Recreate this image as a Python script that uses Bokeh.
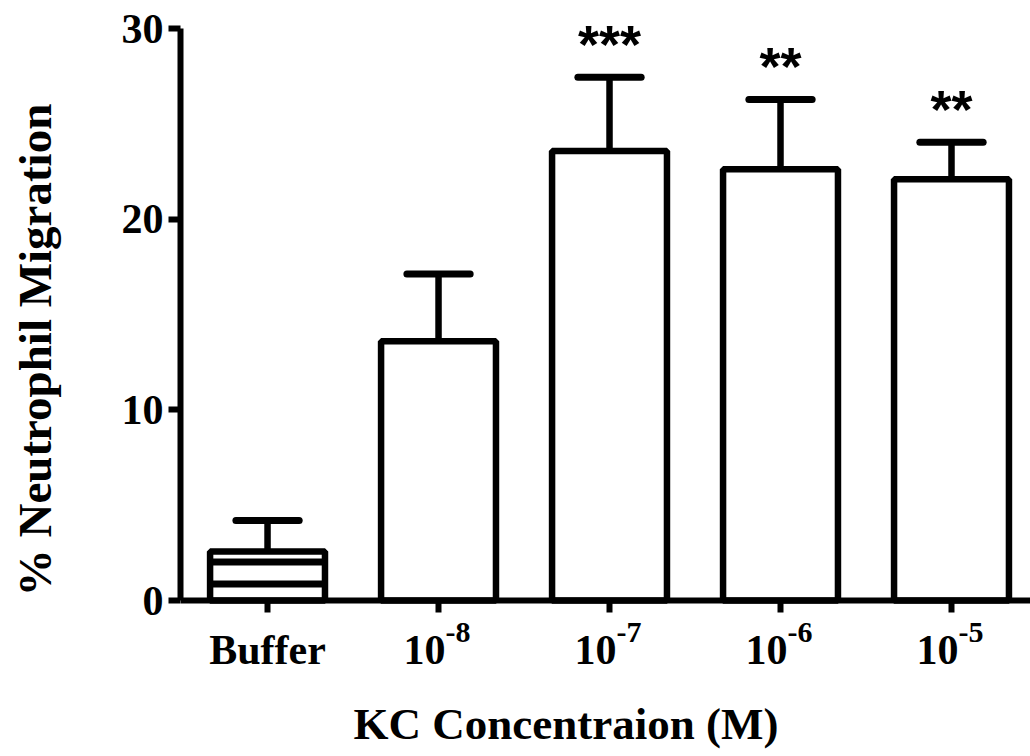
from bokeh.plotting import figure
from bokeh.models import Range1d, FixedTicker, Title
from bokeh.core.properties import value
from bokeh.embed import file_html
from bokeh.resources import INLINE

categories = ["Buffer", "10⁻⁸", "10⁻⁷", "10⁻⁶", "10⁻⁵"]
tick_base = ["Buffer", "10", "10", "10", "10"]
tick_exp = ["", "-8", "-7", "-6", "-5"]
means = [2.57, 13.6, 23.58, 22.62, 22.1]
sems = [1.63, 3.53, 3.87, 3.66, 1.94]
significance = ["", "", "***", "**", "**"]
y_ticks = [0, 10, 20, 30]

xs = list(range(len(categories)))
tops = [m + s for m, s in zip(means, sems)]
cap_half = 0.185
SERIF = "Liberation Serif"

p = figure(width=1030, height=756, output_backend="svg", toolbar_location=None,
           x_range=Range1d(-0.509, 4.462), y_range=Range1d(-4.72, 31),
           min_border_left=180, min_border_right=0, min_border_top=9,
           min_border_bottom=66)
p.outline_line_color = None
p.xgrid.visible = False
p.ygrid.visible = False
p.background_fill_color = "white"
p.border_fill_color = "white"

# bars
p.vbar(x=xs[1:], top=means[1:], bottom=0, width=0.672, fill_color="white",
       line_color="black", line_width=6.5)
p.vbar(x=xs[:1], top=means[:1], bottom=0, width=0.672, fill_color="white",
       line_color="black", line_width=6.5, hatch_pattern="horizontal_line",
       hatch_color="black", hatch_scale=22, hatch_weight=7)

# error bars (upper only)
p.segment(x0=xs, y0=means, x1=xs, y1=tops, line_color="black", line_width=6.5)
p.segment(x0=[x - cap_half for x in xs], y0=tops, x1=[x + cap_half for x in xs],
          y1=tops, line_color="black", line_width=7, line_cap="round")

# significance
p.text(x=xs, y=[t + 1.75 for t in tops], text=significance,
       text_font=value("Liberation Sans"), text_font_style="bold",
       text_font_size="54px", text_align="center", text_baseline="alphabetic",
       text_color="black")

# axes
for ax in (p.xaxis[0], p.yaxis[0]):
    ax.axis_line_width = 6
    ax.axis_line_color = "black"
    ax.major_tick_line_width = 6
    ax.major_tick_line_color = "black"
    ax.major_tick_out = 12
    ax.major_tick_in = 0
    ax.minor_tick_line_color = None
    ax.major_label_text_font = SERIF
    ax.major_label_text_font_style = "bold"
    ax.major_label_text_font_size = "42px"
    ax.major_label_text_color = "black"
    ax.axis_label_text_font = SERIF
    ax.axis_label_text_font_style = "bold"
    ax.axis_label_text_color = "black"

# x axis drawn at y = 0 inside the frame, tick labels as text with superscripts
p.xaxis.fixed_location = 0
p.xaxis.ticker = FixedTicker(ticks=xs)
p.xaxis.major_label_overrides = {i: "" for i in xs}

p.text(x=xs, y=[0] * len(xs), text=tick_base,
       x_offset=[0 if e == "" else -14 for e in tick_exp], y_offset=49,
       text_align="center", text_baseline="alphabetic",
       text_font=value(SERIF), text_font_style="bold",
       text_font_size="42px", text_color="black")
p.text(x=xs, y=[0] * len(xs), text=tick_exp, x_offset=7, y_offset=32,
       text_align="left", text_baseline="alphabetic",
       text_font=value(SERIF), text_font_style="bold",
       text_font_size="30px", text_color="black")

p.add_layout(Title(text="KC Concentraion (M)", align="left", offset=173,
                   text_font=SERIF, text_font_style="bold", text_font_size="45px",
                   text_color="black", standoff=13), "below")

p.yaxis.ticker = FixedTicker(ticks=y_ticks)
p.yaxis.bounds = (0, 30)
p.yaxis.major_label_standoff = 5
p.yaxis.axis_label = "% Neutrophil Migration"
p.yaxis.axis_label_text_font_size = "47px"
p.yaxis.axis_label_standoff = 58

open("out.html", "w").write(file_html(p, INLINE))
